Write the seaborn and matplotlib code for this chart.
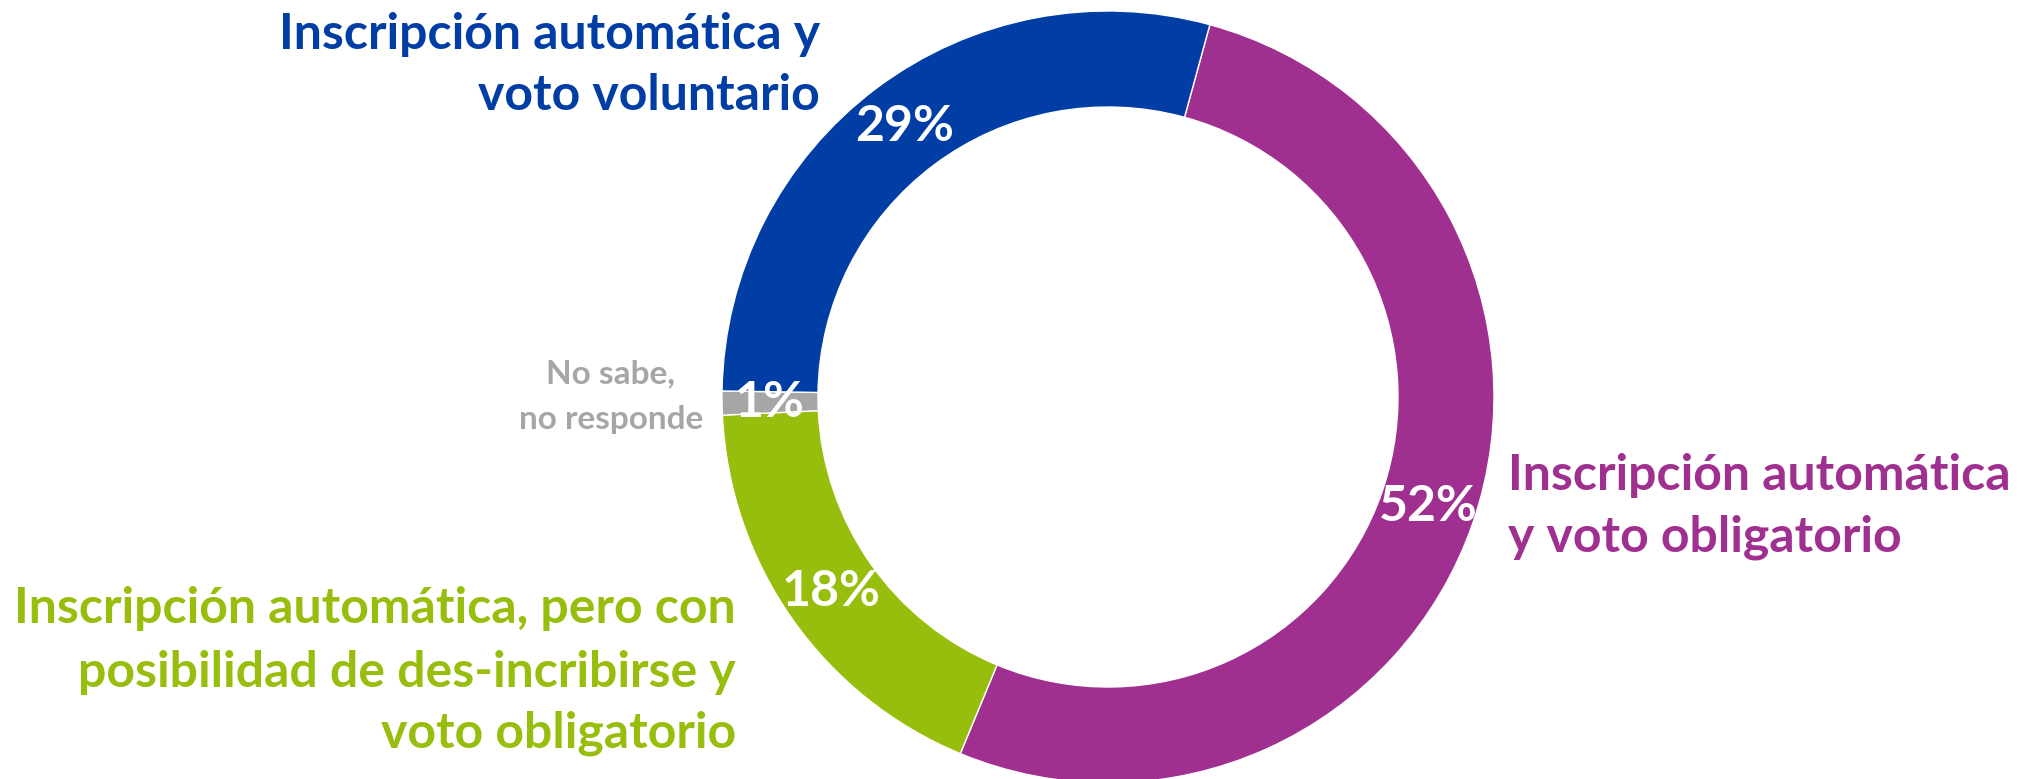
import matplotlib
matplotlib.use("Agg")
import matplotlib.pyplot as plt
import seaborn as sns
import numpy as np

sns.set_theme(style="white")
plt.rcParams['font.family'] = ['Lato', 'DejaVu Sans']

# Data
categories = [
    "Inscripción automática\ny voto obligatorio",
    "Inscripción automática, pero con\nposibilidad de des-incribirse y\nvoto obligatorio",
    "No sabe,\nno responde",
    "Inscripción automática y\nvoto voluntario",
]
values = [52, 18, 1, 29]
colors = ["#A03090", "#97BE0D", "#A6A6A6", "#003DA5"]

W, H = 2021, 779
fig = plt.figure(figsize=(W / 100, H / 100), dpi=100)
ax = fig.add_axes([0, 0, 1, 1])

cx, cy = 1108, H - 397
R, r = 386, 290

wedges, texts, autotexts = ax.pie(
    values,
    colors=colors,
    startangle=74.7,
    counterclock=False,
    center=(cx, cy),
    radius=R,
    wedgeprops=dict(width=R - r, edgecolor="white", linewidth=1),
    autopct=lambda p: f"{p:.0f}%",
    pctdistance=(R + r) / 2 / R,
    frame=True,
    textprops=dict(color="white", fontsize=36, fontweight="bold"),
)
for t in autotexts:
    t.set_color("white")

ax.set_xlim(0, W)
ax.set_ylim(0, H)
ax.set_aspect("equal")
ax.axis("off")

main_fs = 36

def put_lines(text, x, baselines, ha, color, fs):
    for line, yb in zip(text.split("\n"), baselines):
        ax.text(x, H - yb, line, ha=ha, va="baseline", color=color,
                fontsize=fs, fontweight="bold")

put_lines(categories[0], 1508, [490, 552], "left", colors[0], main_fs)
put_lines(categories[1], 736, [623, 687, 748], "right", colors[1], main_fs)
put_lines(categories[2], 611, [383, 429], "center", colors[2], 24)
put_lines(categories[3], 820, [49, 110], "right", colors[3], main_fs)

fig.savefig("out.png", dpi=100)
